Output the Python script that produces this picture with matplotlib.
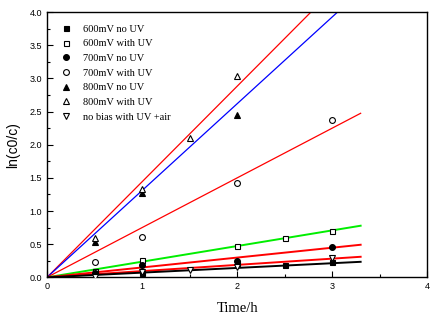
import matplotlib
matplotlib.use("Agg")
import matplotlib.pyplot as plt
import numpy as np

# measured points
t_600_dark = [0.5, 1.0, 2.0, 2.5, 3.0]
y_600_dark = [0.09, 0.06, 0.22, 0.19, 0.23]
t_600_uv = [0.5, 1.0, 2.0, 2.5, 3.0]
y_600_uv = [0.10, 0.26, 0.48, 0.59, 0.70]
t_700_dark = [0.5, 1.0, 2.0, 3.0]
y_700_dark = [0.06, 0.19, 0.24, 0.46]
t_700_uv = [0.5, 1.0, 2.0, 3.0]
y_700_uv = [0.23, 0.61, 1.42, 2.37]
t_800_dark = [0.5, 1.0, 2.0]
y_800_dark = [0.54, 1.27, 2.45]
t_800_uv = [0.5, 1.0, 1.5, 2.0]
y_800_uv = [0.60, 1.33, 2.10, 3.04]
t_nobias = [0.5, 1.0, 1.5, 2.0, 3.0]
y_nobias = [0.00, 0.08, 0.11, 0.15, 0.29]

# fitted lines through origin: slope, colour
fit_slopes = [1.441, 1.309, 0.75, 0.236, 0.149, 0.094, 0.071]
fit_colors = ["red", "blue", "red", "#00ee00", "red", "red", "black"]
fit_end = 3.3

fig = plt.figure(figsize=(4.35, 3.21), dpi=100)
ax = fig.add_axes([0.108, 0.136, 0.874, 0.826])

tt = np.array([0.0, fit_end])
for k, c in zip(fit_slopes, fit_colors):
    lw = 0.9 if k > 0.5 else 1.4
    ax.plot(tt, k * tt, color=c, lw=lw, zorder=1)

series = [
    (t_600_dark, y_600_dark, "s", True, 3.6, "600mV no UV"),
    (t_600_uv, y_600_uv, "s", False, 3.6, "600mV with UV"),
    (t_700_dark, y_700_dark, "o", True, 4.2, "700mV no UV"),
    (t_700_uv, y_700_uv, "o", False, 4.2, "700mV with UV"),
    (t_800_dark, y_800_dark, "^", True, 5.0, "800mV no UV"),
    (t_800_uv, y_800_uv, "^", False, 5.0, "800mV with UV"),
    (t_nobias, y_nobias, "v", False, 5.0, "no bias with UV +air"),
]
for t, y, m, filled, ms, lab in series:
    ax.plot(t, y, ls="none", marker=m, ms=ms, mec="black", mew=0.8,
            mfc="black" if filled else "white", label=lab, zorder=3)

ax.set_xlim(0, 4)
ax.set_ylim(0, 4)
ax.set_xticks([0, 1, 2, 3, 4])
ax.set_xticks(np.arange(0, 4.01, 0.5), minor=True)
ax.set_yticks(np.arange(0, 4.01, 0.5))
ax.set_yticks(np.arange(0, 4.01, 0.25), minor=True)
ax.set_yticklabels([f"{v:.1f}" for v in np.arange(0, 4.01, 0.5)])
ax.tick_params(which="both", direction="in", top=False, right=False,
               labelsize=6.5, width=0.8)
ax.tick_params(which="major", length=4)
ax.tick_params(which="minor", length=2.5)
for lbl in ax.get_xticklabels() + ax.get_yticklabels():
    lbl.set_family("Liberation Sans")
for s in ax.spines.values():
    s.set_linewidth(1.0)

ax.set_xlabel("Time/h", family="Liberation Serif", fontsize=10.5, labelpad=8)
ax.set_ylabel("ln(c0/c)", family="Liberation Sans", fontsize=10, labelpad=7)

leg = ax.legend(loc="upper left", bbox_to_anchor=(0.012, 0.978), frameon=False,
                prop={"family": "Liberation Serif", "size": 7.5},
                handletextpad=0.9, labelspacing=0.52, handlelength=1.5,
                borderaxespad=0.2)

fig.savefig("out.png", dpi=100)
